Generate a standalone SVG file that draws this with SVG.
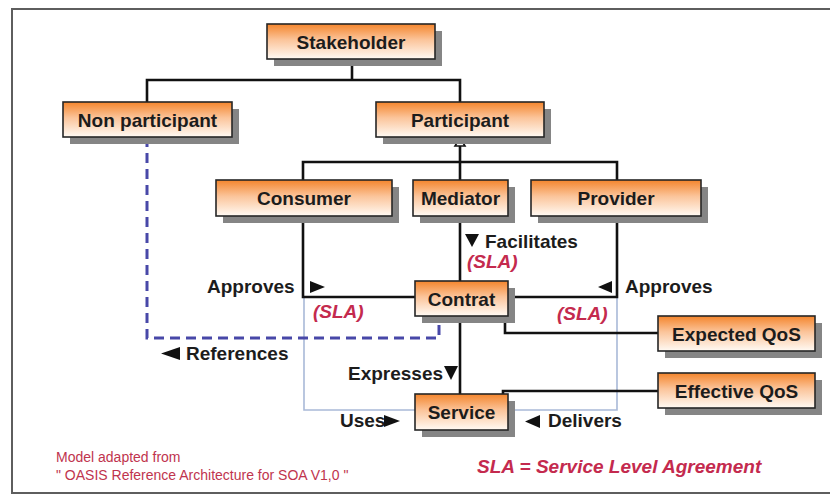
<svg xmlns="http://www.w3.org/2000/svg" width="830" height="496" viewBox="0 0 830 496">
<defs>
<linearGradient id="og" x1="0" y1="0" x2="0" y2="1">
<stop offset="0" stop-color="#f4852c"/>
<stop offset="0.45" stop-color="#fbc49a"/>
<stop offset="1" stop-color="#fffaf4"/>
</linearGradient>
</defs>
<style>
.sh{fill:#858585}
.bx{fill:url(#og);stroke:#262626;stroke-width:1.6}
.nt{font-family:"Liberation Sans",Arial,sans-serif;font-weight:bold;font-size:19px;fill:#1c1c1c;text-anchor:middle}
.lb{font-family:"Liberation Sans",Arial,sans-serif;font-weight:bold;font-size:19px;fill:#1c1c1c}
.sla{font-family:"Liberation Sans",Arial,sans-serif;font-weight:bold;font-style:italic;font-size:19px;fill:#c42a4e}
.note{font-family:"Liberation Sans",Arial,sans-serif;font-size:14px;fill:#c0344e}
.ln{fill:none;stroke:#111;stroke-width:2.6}
.bl{fill:none;stroke:#a9b9d8;stroke-width:1.6}
.ds{fill:none;stroke:#4848a8;stroke-width:3;stroke-dasharray:10 6}
.tri{fill:#111}
</style>
<rect x="12" y="9" width="830" height="484" fill="#fff" stroke="#5e5e5e" stroke-width="2"/>

<g id="connectors">
<path class="bl" d="M304,297 V410 H617 V297"/>
<path class="ds" d="M147,137 V338 H439 V317"/>
<path class="ln" d="M352,59 V80 M147,102 V80 H460 V102"/>
<path class="ln" d="M303,180 V162 H617 V180 M460,180 V146"/>
<polygon points="460,138 455,146 465,146" fill="#fff" stroke="#111" stroke-width="1.6"/>
<path class="ln" d="M303,216 V297 H415"/>
<path class="ln" d="M460,216 V281"/>
<path class="ln" d="M617,216 V297 H508"/>
<path class="ln" d="M505,316 V333 H658"/>
<path class="ln" d="M460,316 V394"/>
<path class="ln" d="M503,394 V391 H658"/>
</g>

<g id="labels">
<polygon class="tri" points="465,234 479,234 472,247"/>
<text class="lb" x="485" y="248">Facilitates</text>
<text class="sla" x="467" y="268">(SLA)</text>
<text class="lb" x="207" y="293">Approves</text>
<polygon class="tri" points="310,281 325,287 310,293"/>
<text class="sla" x="313" y="318">(SLA)</text>
<polygon class="tri" points="612,281 598,287 612,293"/>
<text class="lb" x="625" y="293">Approves</text>
<text class="sla" x="557" y="320">(SLA)</text>
<polygon class="tri" points="180,347 180,360 161,353.5"/>
<text class="lb" x="186" y="360">References</text>
<text class="lb" x="348" y="380">Expresses</text>
<polygon class="tri" points="444,366 458,366 451,380"/>
<text class="lb" x="340" y="427">Uses</text>
<polygon class="tri" points="384,415 400,421 384,427"/>
<polygon class="tri" points="540,415 540,428 525,421.5"/>
<text class="lb" x="548" y="427">Delivers</text>
<text class="sla" x="477" y="473">SLA = Service Level Agreement</text>
<text class="note" x="56" y="462">Model adapted from</text>
<text class="note" x="56" y="480">" OASIS Reference Architecture for SOA V1,0 "</text>
</g>

<g id="stakeholder"><rect class="sh" x="274" y="31" width="168" height="35"/><rect class="bx" x="267" y="24" width="168" height="35"/><text class="nt" x="351" y="48.5">Stakeholder</text></g>
<g id="non-participant"><rect class="sh" x="70" y="109" width="169" height="35"/><rect class="bx" x="63" y="102" width="169" height="35"/><text class="nt" x="147.5" y="126.5">Non participant</text></g>
<g id="participant"><rect class="sh" x="383" y="109" width="168" height="35"/><rect class="bx" x="376" y="102" width="168" height="35"/><text class="nt" x="460" y="126.5">Participant</text></g>
<g id="consumer"><rect class="sh" x="223" y="187" width="176" height="36"/><rect class="bx" x="216" y="180" width="176" height="36"/><text class="nt" x="304" y="205">Consumer</text></g>
<g id="mediator"><rect class="sh" x="420" y="187" width="95" height="36"/><rect class="bx" x="413" y="180" width="95" height="36"/><text class="nt" x="460.5" y="205">Mediator</text></g>
<g id="provider"><rect class="sh" x="538" y="187" width="170" height="36"/><rect class="bx" x="531" y="180" width="170" height="36"/><text class="nt" x="616" y="205">Provider</text></g>
<g id="contrat"><rect class="sh" x="422" y="288" width="93" height="35"/><rect class="bx" x="415" y="281" width="93" height="35"/><text class="nt" x="461.5" y="305.5">Contrat</text></g>
<g id="expected-qos"><rect class="sh" x="665" y="323" width="157" height="35"/><rect class="bx" x="658" y="316" width="157" height="35"/><text class="nt" x="736.5" y="340.5">Expected QoS</text></g>
<g id="effective-qos"><rect class="sh" x="665" y="380" width="157" height="35"/><rect class="bx" x="658" y="373" width="157" height="35"/><text class="nt" x="736.5" y="397.5">Effective QoS</text></g>
<g id="service"><rect class="sh" x="422" y="401" width="93" height="36"/><rect class="bx" x="415" y="394" width="93" height="36"/><text class="nt" x="461.5" y="419">Service</text></g>
</svg>
